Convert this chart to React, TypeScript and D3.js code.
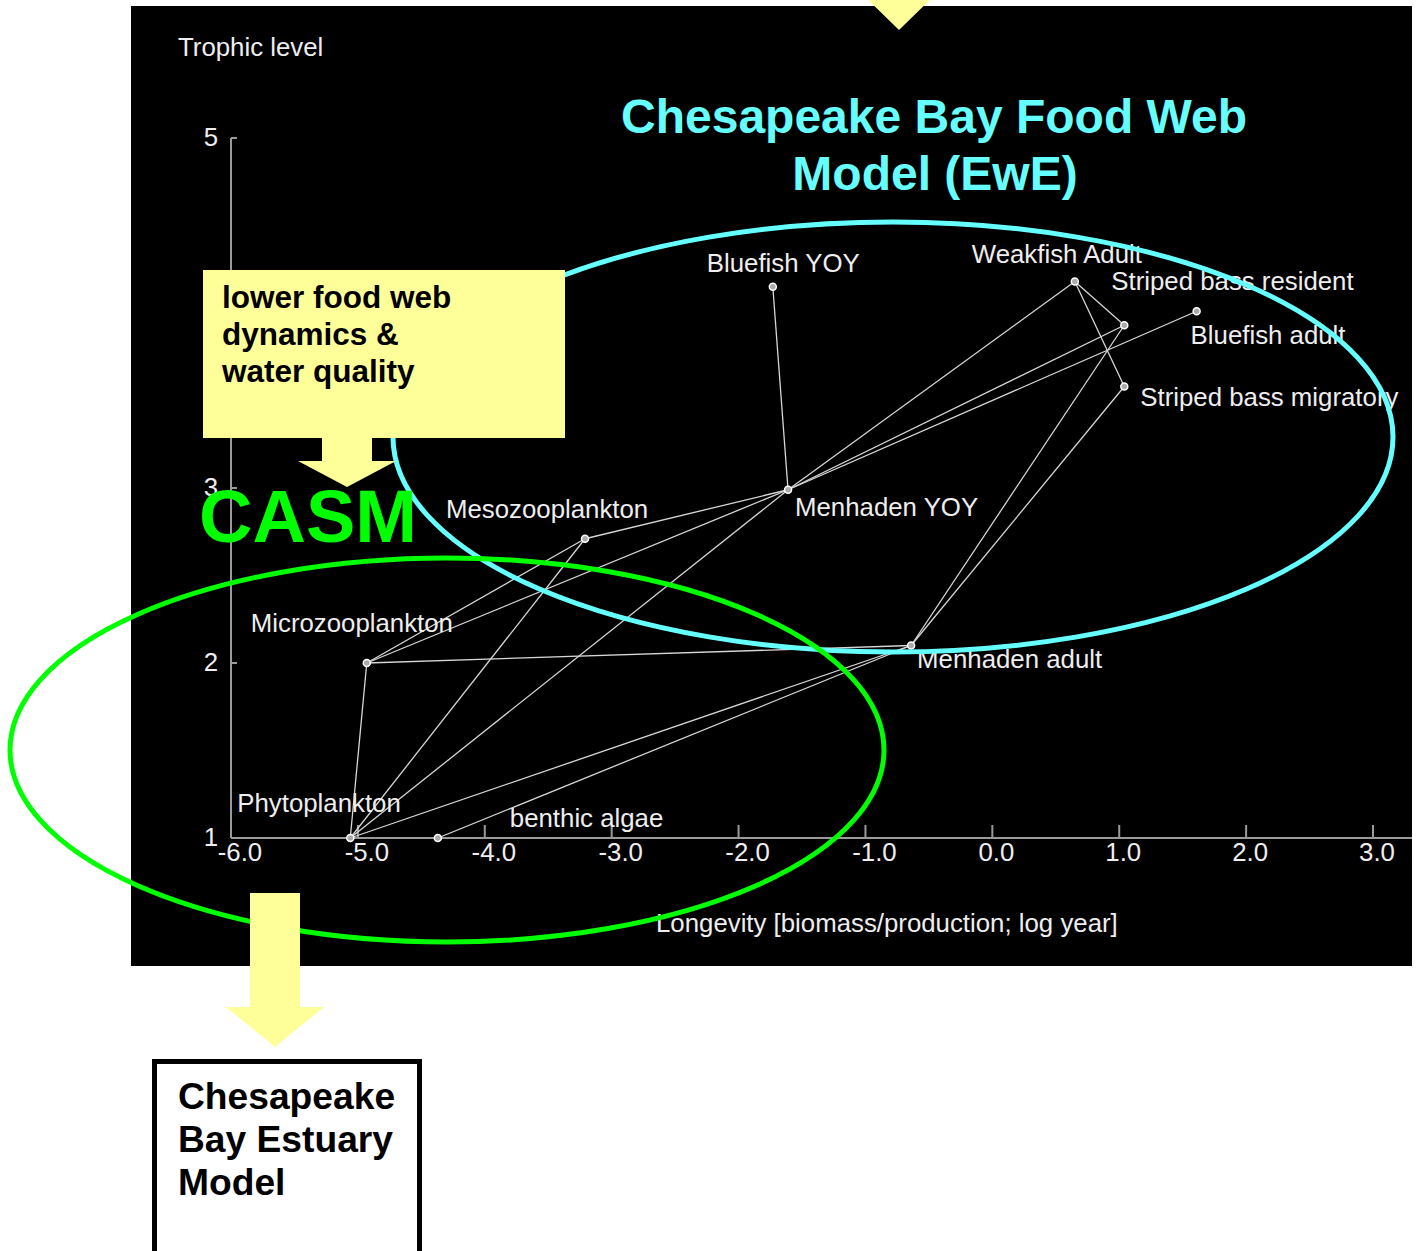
import * as d3 from "d3";

// Trophic network
const nodeNames = [
  "Phytoplankton",
  "benthic algae",
  "Microzooplankton",
  "Mesozooplankton",
  "Menhaden YOY",
  "Menhaden adult",
  "Bluefish YOY",
  "Weakfish Adult",
  "Striped bass resident",
  "Bluefish adult",
  "Striped bass migratory",
];
const longevity = [-5.06, -4.37, -4.93, -3.21, -1.61, -0.64, -1.73, 0.65, 1.04, 1.61, 1.04];
const trophicLevel = [1.0, 1.0, 2.0, 2.71, 2.99, 2.1, 4.15, 4.18, 3.93, 4.01, 3.58];

const linkFrom = [
  "Phytoplankton", "Phytoplankton", "Phytoplankton", "Phytoplankton", "benthic algae",
  "Microzooplankton", "Microzooplankton", "Microzooplankton", "Mesozooplankton",
  "Menhaden YOY", "Menhaden YOY", "Menhaden YOY", "Menhaden YOY",
  "Menhaden adult", "Menhaden adult", "Weakfish Adult", "Weakfish Adult",
];
const linkTo = [
  "Microzooplankton", "Mesozooplankton", "Menhaden YOY", "Menhaden adult", "Menhaden adult",
  "Mesozooplankton", "Menhaden YOY", "Menhaden adult", "Menhaden YOY",
  "Bluefish YOY", "Weakfish Adult", "Striped bass resident", "Bluefish adult",
  "Striped bass resident", "Striped bass migratory", "Striped bass resident", "Striped bass migratory",
];

const xTicks = [-6, -5, -4, -3, -2, -1, 0, 1, 2, 3];
const yTicks = [1, 2, 3, 4, 5];

// label placement relative to each node (px)
const labelOffset: Record<string, [number, number]> = {
  Phytoplankton: [-113, -26],
  "benthic algae": [72, -11],
  Microzooplankton: [-116, -31],
  Mesozooplankton: [-139, -21],
  "Menhaden YOY": [7, 26],
  "Menhaden adult": [6, 22],
  "Bluefish YOY": [-66, -15],
  "Weakfish Adult": [-103, -19],
  "Striped bass resident": [-13, -35],
  "Bluefish adult": [-6, 33],
  "Striped bass migratory": [16, 19],
};

const FONT = "'Liberation Sans', Arial, sans-serif";
const CYAN = "#66FFFF";
const GREEN = "#00FF00";
const YELLOW = "#FFFF99";
const LABEL_SIZE = 25.8;

export default function App() {
  const width = 1417;
  const height = 1251;

  const x = d3.scaleLinear().domain([-6, 3]).range([231, 1373]);
  const y = d3.scaleLinear().domain([1, 5]).range([838, 138]);

  const pos = new Map<string, [number, number]>();
  nodeNames.forEach((n, i) => pos.set(n, [x(longevity[i]), y(trophicLevel[i])]));

  const tri = (pts: [number, number][]) => d3.line()(pts) + "Z";

  return (
    <svg
      width={width}
      height={height}
      style={{ position: "absolute", left: 0, top: 0, display: "block", background: "#fff" }}
      fontFamily={FONT}
    >
      {/* black plot panel */}
      <rect x={131} y={6} width={1281} height={960} fill="#000" />

      {/* top arrow tip coming in from above */}
      <path d={tri([[858, -10], [940, -10], [899, 30]])} fill={YELLOW} />

      {/* axes */}
      <g stroke="#9a9a9a" strokeWidth={2} fill="none">
        <line x1={x(-6)} x2={1412} y1={y(1)} y2={y(1)} />
        <line x1={x(-6)} x2={x(-6)} y1={y(5)} y2={y(1)} />
        {xTicks.slice(1).map((t) => (
          <line key={t} x1={x(t)} x2={x(t)} y1={y(1)} y2={y(1) - 13} />
        ))}
        {yTicks.slice(1).map((t) => (
          <line key={t} x1={x(-6)} x2={x(-6) + 6} y1={y(t)} y2={y(t)} />
        ))}
      </g>
      <g fill="#eeeeee" fontSize={LABEL_SIZE}>
        {xTicks.map((t) => (
          <text key={t} x={x(t) + (t < 0 ? 9 : 4)} y={861} textAnchor="middle">
            {t.toFixed(1)}
          </text>
        ))}
        {yTicks.map((t) => (
          <text key={t} x={218} y={y(t) + 8} textAnchor="end">
            {t}
          </text>
        ))}
        <text x={178} y={56}>Trophic level</text>
        <text x={656} y={932}>Longevity [biomass/production; log year]</text>
      </g>

      {/* links */}
      <g stroke="#d6d6d6" strokeWidth={1.3}>
        {linkFrom.map((f, i) => {
          const a = pos.get(f)!;
          const b = pos.get(linkTo[i])!;
          return <line key={i} x1={a[0]} y1={a[1]} x2={b[0]} y2={b[1]} />;
        })}
      </g>

      {/* nodes + labels */}
      {nodeNames.map((n) => {
        const [px, py] = pos.get(n)!;
        const [dx, dy] = labelOffset[n];
        return (
          <g key={n}>
            <circle cx={px} cy={py} r={3.5} fill="#aaa" stroke="#fff" strokeWidth={1.5} />
            <text x={px + dx} y={py + dy} fill="#eeeeee" fontSize={LABEL_SIZE}>
              {n}
            </text>
          </g>
        );
      })}

      {/* EwE title */}
      <g fill={CYAN} fontSize={48} fontWeight="bold" textAnchor="middle">
        <text x={934} y={133}>Chesapeake Bay Food Web</text>
        <text x={935} y={190}>Model (EwE)</text>
      </g>

      {/* ellipses */}
      <ellipse cx={893} cy={437} rx={500} ry={215} fill="none" stroke={CYAN} strokeWidth={5} />

      {/* lower food web box + arrow */}
      <rect x={203} y={270} width={362} height={168} fill={YELLOW} />
      <rect x={322} y={437} width={50} height={25} fill={YELLOW} />
      <path d={tri([[298, 461], [396, 461], [347, 487]])} fill={YELLOW} />
      <g fill="#000" fontSize={31.5} fontWeight="bold">
        <text x={222} y={308}>lower food web</text>
        <text x={222} y={345}>dynamics &amp;</text>
        <text x={222} y={382}>water quality</text>
      </g>

      <text x={199} y={542} fill={GREEN} fontSize={74} fontWeight="bold">
        CASM
      </text>

      <ellipse cx={447} cy={750} rx={437} ry={192} fill="none" stroke={GREEN} strokeWidth={5} />

      {/* arrow to estuary model */}
      <rect x={250} y={893} width={50} height={115} fill={YELLOW} />
      <path d={tri([[226, 1007], [324, 1007], [275, 1047]])} fill={YELLOW} />

      <rect x={154.5} y={1061.5} width={265} height={220} fill="#fff" stroke="#000" strokeWidth={5} />
      <g fill="#000" fontSize={37.2} fontWeight="bold">
        <text x={178} y={1109}>Chesapeake</text>
        <text x={178} y={1152}>Bay Estuary</text>
        <text x={178} y={1195}>Model</text>
      </g>
    </svg>
  );
}
